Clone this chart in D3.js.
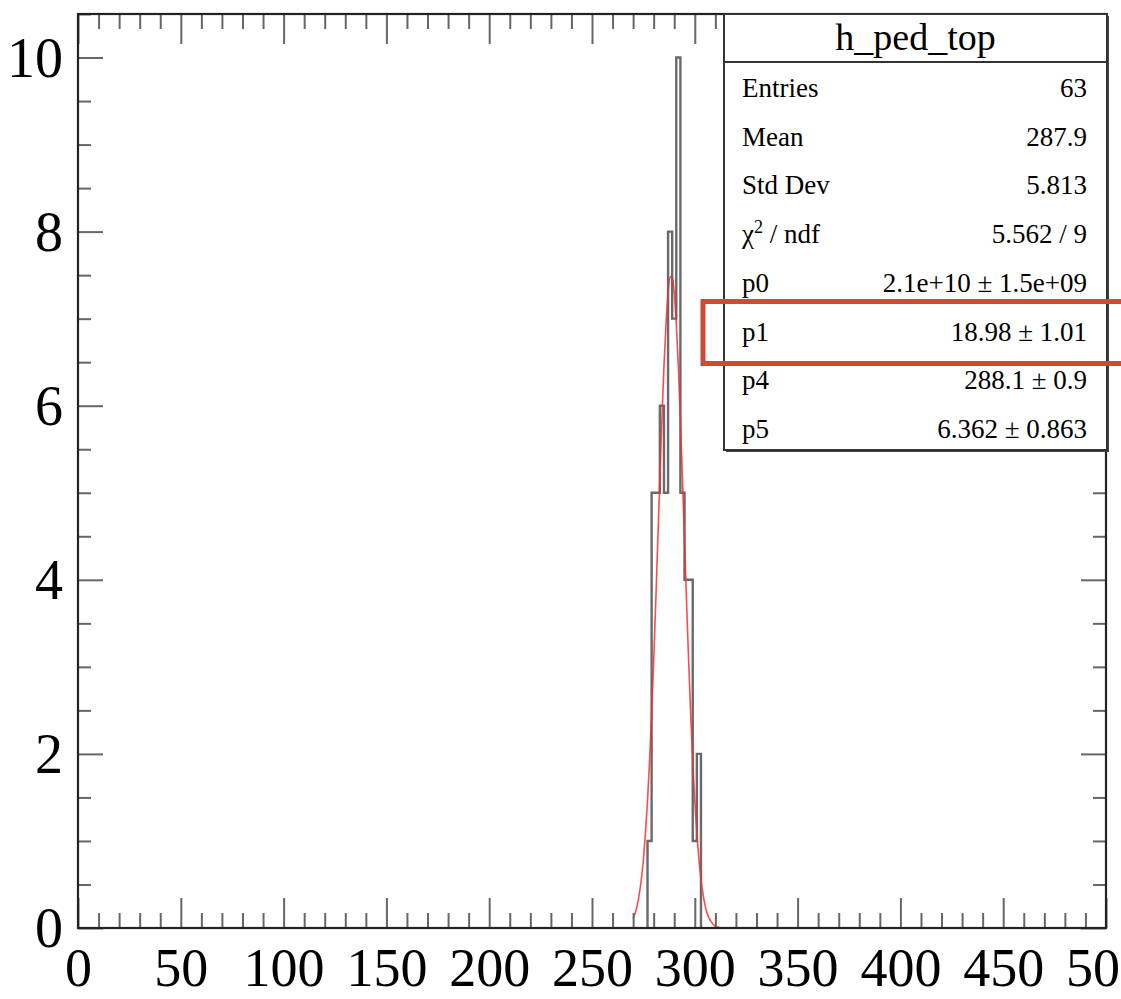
<!DOCTYPE html>
<html><head><meta charset="utf-8">
<script src="https://cdn.jsdelivr.net/npm/d3@7"></script>
<style>body{margin:0;background:#fff}svg{display:block}text{font-family:"Liberation Serif","Times New Roman",serif;fill:#000}</style>
</head><body><svg id="c" width="1121" height="999"></svg>
<script>
// ---- data ----
const binEdges = [277,279,281,283,285,287,289,291,293,295,297,299,301,303];
const binCounts = [1,5,5,6,5,8,7,10,5,4,4,1,2];
const fitX = [270,271,272,273,274,275,276,277,278,279,280,281,282,283,284,285,286,287,288,289,290,291,292,293,294,295,296,297,298,299,300,301,302,303,304,305,306,307,308,309,310,311,312];
const fitY = [0.11,0.17,0.26,0.39,0.56,0.79,1.09,1.46,1.92,2.46,3.07,3.74,4.45,5.16,5.84,6.45,6.94,7.30,7.48,7.48,7.30,6.94,6.45,5.84,5.16,4.45,3.74,3.07,2.46,1.92,1.46,1.09,0.79,0.56,0.39,0.26,0.17,0.11,0.07,0.04,0.02,0.01,0.01];
const xMajor = [0,50,100,150,200,250,300,350,400,450,500];
const yMajor = [0,2,4,6,8,10];
const statsTitle = "h_ped_top";
const statsLabels = ["Entries","Mean","Std Dev","χ2 / ndf","p0","p1","p4","p5"];
const statsValues = ["63","287.9","5.813","5.562 / 9","2.1e+10 ± 1.5e+09","18.98 ± 1.01","288.1 ± 0.9","6.362 ± 0.863"];

// ---- layout ----
const L=78, R=1106, T=14, B=928;
const svg = d3.select("#c");
const x = d3.scaleLinear().domain([0,500]).range([L,R]);
const y = d3.scaleLinear().domain([0,10.5]).range([B,T]);
const xMinor = d3.range(0,501,10).filter(v=>v%50!==0);
const yMinor = d3.range(0,10.51,0.5).filter(v=>v%2!==0);

svg.append("clipPath").attr("id","fr").append("rect").attr("x",L).attr("y",T).attr("width",R-L).attr("height",B-T);

// histogram outline
const pts=[{x:binEdges[0],y:0}];
binCounts.forEach((c,i)=>pts.push({x:binEdges[i],y:c}));
pts.push({x:binEdges[binEdges.length-1],y:binCounts[binCounts.length-1]});
pts.push({x:binEdges[binEdges.length-1],y:0});
svg.append("path").attr("clip-path","url(#fr)")
  .attr("d",d3.line().x(d=>x(d.x)).y(d=>y(d.y)).curve(d3.curveStepAfter)(pts))
  .attr("fill","none").attr("stroke","#6a6a6a").attr("stroke-width",2.4);

// fit curve
svg.append("path").attr("clip-path","url(#fr)")
  .attr("d",d3.line().x((d,i)=>x(fitX[i])).y(d=>y(d)).curve(d3.curveMonotoneX)(fitY))
  .attr("fill","none").attr("stroke","#ff2a2a").attr("stroke-width",1.6).attr("stroke-opacity",0.85);

// axes ticks
function tk(axis, tx, ty){
  const g=svg.append("g").attr("transform",`translate(${tx},${ty})`).call(axis);
  g.select(".domain").remove();
  g.selectAll("line").attr("stroke","#666").attr("stroke-width",2);
  return g;
}
const gxb = tk(d3.axisBottom(x).tickValues(xMajor).tickSize(-30).tickFormat(d3.format("d")),0,B);
gxb.selectAll("text").attr("dy",null).attr("y",58).style("font-size","54px").attr("fill","#000");
tk(d3.axisBottom(x).tickValues(xMinor).tickSize(-15).tickFormat(""),0,B);
tk(d3.axisTop(x).tickValues(xMajor).tickSize(-30).tickFormat(""),0,T);
tk(d3.axisTop(x).tickValues(xMinor).tickSize(-15).tickFormat(""),0,T);
const gyl = tk(d3.axisLeft(y).tickValues(yMajor).tickSize(-25).tickFormat(d3.format("d")),L,0);
gyl.selectAll("text").attr("x",-15).attr("dy","0.33em").style("font-size","56px").attr("fill","#000");
tk(d3.axisLeft(y).tickValues(yMinor).tickSize(-13).tickFormat(""),L,0);
tk(d3.axisRight(y).tickValues(yMajor).tickSize(-25).tickFormat(""),R,0);
tk(d3.axisRight(y).tickValues(yMinor).tickSize(-13).tickFormat(""),R,0);
svg.selectAll(".tick text").attr("font-family",null);

// frame
svg.append("rect").attr("x",L).attr("y",T).attr("width",R-L).attr("height",B-T)
  .attr("fill","none").attr("stroke","#222").attr("stroke-width",2.2);

// stats box
const bx=724, by=14, bw=R+1-724, bh=436;
svg.append("rect").attr("x",bx+2).attr("y",by+2).attr("width",bw).attr("height",bh).attr("fill","#444");
svg.append("rect").attr("x",bx).attr("y",by).attr("width",bw).attr("height",bh)
  .attr("fill","#fff").attr("stroke","#333").attr("stroke-width",2);
svg.append("line").attr("x1",bx).attr("x2",bx+bw).attr("y1",62).attr("y2",62).attr("stroke","#333").attr("stroke-width",2);
svg.append("text").attr("x",bx+bw/2).attr("y",50).attr("text-anchor","middle").style("font-size","38px").text(statsTitle);
const rowY=d3.scaleLinear().domain([0,7]).range([97,438]);
statsLabels.forEach((lab,i)=>{
  const t=svg.append("text").attr("x",742).attr("y",rowY(i)).style("font-size","27px");
  if(lab.startsWith("χ2")){
    t.append("tspan").text("χ");
    t.append("tspan").attr("dy",-10).style("font-size","18px").text("2");
    t.append("tspan").attr("dy",10).text(" / ndf");
  } else t.text(lab);
  svg.append("text").attr("x",1087).attr("y",rowY(i)).attr("text-anchor","end").style("font-size","27px").text(statsValues[i]);
});

// highlight annotation
svg.append("rect").attr("x",703).attr("y",301.5).attr("width",460).attr("height",62)
  .attr("fill","none").attr("stroke","#cc4b37").attr("stroke-width",5);
</script></body></html>
